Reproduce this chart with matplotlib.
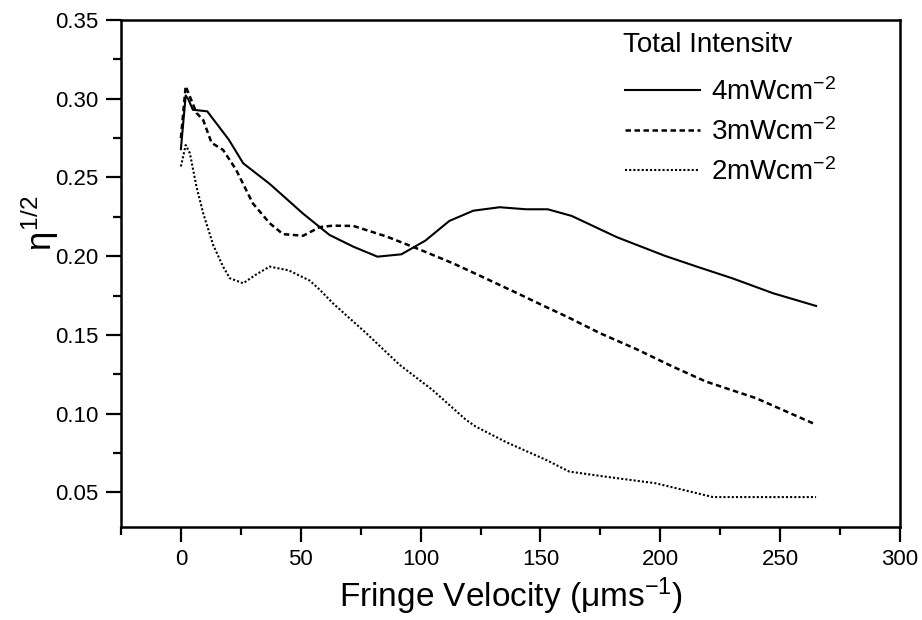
import matplotlib
matplotlib.use("Agg")
import matplotlib.pyplot as plt
from matplotlib.ticker import MultipleLocator

plt.rcParams['font.family'] = ['Liberation Sans', 'DejaVu Sans']
plt.rcParams['mathtext.fontset'] = 'custom'
plt.rcParams['mathtext.rm'] = 'Liberation Sans'
plt.rcParams['mathtext.it'] = 'Liberation Sans'

# datos
v4 = [0, 2, 3, 5, 11, 20, 26, 37, 51, 62, 72, 82, 92, 102, 112, 122, 133, 144, 153, 163, 182, 202, 216, 230, 247, 265]
eta4 = [0.268, 0.302, 0.300, 0.293, 0.292, 0.274, 0.259, 0.246, 0.227, 0.2135, 0.206, 0.1997, 0.2012, 0.2099, 0.2224,
        0.2289, 0.2311, 0.2298, 0.2298, 0.2256, 0.212, 0.2002, 0.193, 0.186, 0.1765, 0.1684]

v3 = [0, 2, 6.5, 9.3, 12.8, 17.6, 23, 30, 37, 42.6, 51, 58, 63.5, 72, 86, 100, 113.5, 127, 141, 152, 161, 175, 190,
      205, 219, 240, 265]
eta3 = [0.275, 0.308, 0.291, 0.2865, 0.272, 0.2675, 0.255, 0.2336, 0.221, 0.214, 0.213, 0.2185, 0.2194, 0.2192, 0.2124,
        0.204, 0.1955, 0.186, 0.176, 0.168, 0.1616, 0.151, 0.141, 0.130, 0.1204, 0.1098, 0.093]

v2 = [0, 2, 3.75, 6.5, 9.3, 13.5, 17.6, 20.4, 26, 31, 37, 45, 53.75, 58, 63.5, 77.4, 91.25, 105, 119, 123, 135.7,
      152.4, 162, 177, 198, 222, 265]
eta2 = [0.257, 0.2706, 0.2654, 0.2442, 0.2273, 0.207, 0.1934, 0.186, 0.1828, 0.188, 0.1934, 0.191, 0.1845, 0.1786,
        0.170, 0.151, 0.131, 0.115, 0.096, 0.0918, 0.0819, 0.0706, 0.0632, 0.06, 0.0558, 0.047, 0.047]

etiquetas = [r'4mWcm$^{-2}$', r'3mWcm$^{-2}$', r'2mWcm$^{-2}$']
titulo_leyenda = 'Total Intensitv'

fig = plt.figure(figsize=(9.22, 6.2), dpi=100)
ax = fig.add_axes([0.1312, 0.15, 0.8449, 0.8177])

ax.plot(v4, eta4, color='black', lw=1.5, linestyle='-', label=etiquetas[0])
ax.plot(v3, eta3, color='black', lw=1.8, linestyle=(0, (2.2, 1.4)), label=etiquetas[1])
ax.plot(v2, eta2, color='black', lw=1.5, linestyle=(0, (1, 1)), label=etiquetas[2])

ax.set_xlim(-25, 300)
ax.set_ylim(0.028, 0.35)
ax.xaxis.set_major_locator(MultipleLocator(50))
ax.xaxis.set_minor_locator(MultipleLocator(25))
ax.yaxis.set_major_locator(MultipleLocator(0.05))
ax.yaxis.set_minor_locator(MultipleLocator(0.025))
ax.yaxis.set_major_formatter(plt.FormatStrFormatter('%.2f'))

ax.tick_params(which='major', direction='out', length=11, width=1.6, labelsize=16, pad=5)
ax.tick_params(which='minor', direction='out', length=6, width=1.6)
for s in ax.spines.values():
    s.set_linewidth(1.8)

ax.set_xlabel(r'Fringe Velocity ($\mu$ms$^{-1}$)', fontsize=24, labelpad=4)
fig.text(0.043, 0.64, r'$\eta^{1/2}$', rotation=90, fontsize=25, ha='center', va='center')

# titulo de la leyenda aparte, para controlar el espacio
fig.text(623 / 922, 1 - 45 / 620, titulo_leyenda, fontsize=20, ha='left', va='center')
leg = ax.legend(loc='upper left', bbox_to_anchor=(625 / 922, 1 - 78 / 620), bbox_transform=fig.transFigure,
                frameon=False, fontsize=20, borderpad=0, borderaxespad=0,
                handlelength=2.7, handletextpad=0.4, labelspacing=0.44)

plt.savefig('out.png', dpi=100)
